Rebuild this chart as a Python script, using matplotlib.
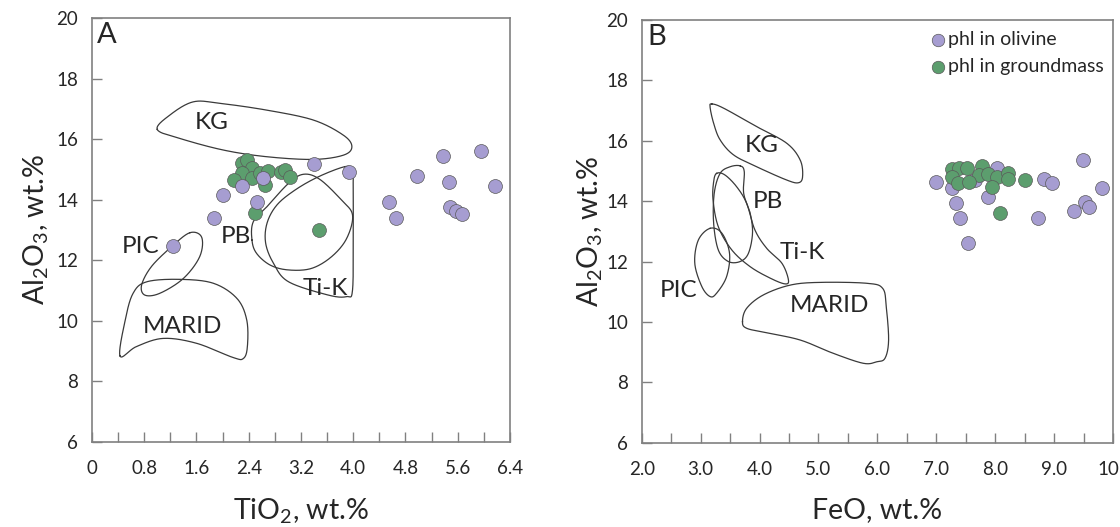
import numpy as np
import matplotlib
matplotlib.use("Agg")
import matplotlib.pyplot as plt
import matplotlib.transforms as mtransforms
from matplotlib.ticker import MultipleLocator, FixedLocator, FixedFormatter

plt.rcParams["font.family"] = ["Lato", "DejaVu Sans"]
plt.rcParams["mathtext.fontset"] = "custom"
plt.rcParams["mathtext.rm"] = "Lato"
plt.rcParams["mathtext.it"] = "Lato:italic"

# ---- phlogopite analyses -------------------------------------------------
# Panel A: TiO2 vs Al2O3
ti_olv = [1.24, 1.87, 2.00, 2.30, 2.62, 2.53, 3.40, 3.93, 4.55, 4.65, 4.98,
          5.38, 5.46, 5.48, 5.57, 5.66, 5.96, 6.17]
al_olv_a = [12.47, 13.38, 14.14, 14.45, 14.72, 13.92, 15.17, 14.90, 13.92,
            13.38, 14.77, 15.45, 14.60, 13.75, 13.64, 13.52, 15.61, 14.46]
ti_gm = [2.30, 2.37, 2.45, 2.29, 2.45, 2.18, 2.57, 2.70, 2.65, 2.90, 2.96,
         3.03, 2.49, 3.48]
al_gm_a = [15.20, 15.31, 15.03, 14.87, 14.70, 14.65, 14.87, 14.95, 14.48,
           14.92, 14.98, 14.74, 13.57, 13.00]

# Panel B: FeO vs Al2O3
fe_olv = [6.99, 7.26, 7.33, 7.40, 7.53, 7.66, 8.03, 7.88, 8.82, 8.97, 8.72,
          9.49, 9.33, 9.53, 9.60, 9.81]
al_olv_b = [14.65, 14.43, 13.93, 13.43, 12.60, 14.69, 15.09, 14.15, 14.72,
            14.59, 13.43, 15.36, 13.68, 13.98, 13.80, 14.43]
fe_gm = [7.26, 7.38, 7.52, 7.78, 7.72, 7.87, 8.03, 8.21, 8.21, 8.51, 7.26,
         7.36, 7.56, 7.94, 8.08]
al_gm_b = [15.05, 15.09, 15.09, 15.17, 14.87, 14.90, 14.81, 14.94, 14.73,
           14.69, 14.79, 14.61, 14.64, 14.48, 13.60]

# ---- reference fields (outline vertices, smoothed when drawn) -----------
fields_a = {
    "KG": [(1.00, 16.32), (1.19, 16.79), (1.55, 17.23), (1.96, 17.18),
           (2.67, 16.96), (3.39, 16.63), (3.85, 16.13), (3.98, 15.75),
           (3.85, 15.47), (3.39, 15.33), (2.67, 15.42), (2.01, 15.64),
           (1.35, 16.02)],
    "PIC": [(1.50, 12.91), (1.68, 12.76), (1.65, 12.12), (1.40, 11.40),
            (1.04, 10.91), (0.81, 10.85), (0.76, 11.18), (0.91, 11.79),
            (1.22, 12.45)],
    "MARID": [(0.43, 8.84), (0.51, 10.03), (0.63, 10.91), (0.84, 11.29),
              (1.35, 11.37), (1.86, 11.24), (2.22, 10.74), (2.37, 10.03),
              (2.38, 9.15), (2.32, 8.76), (2.16, 8.79), (1.60, 9.26),
              (1.09, 9.42), (0.68, 9.15)],
    "PB": [(2.45, 12.67), (2.47, 13.27), (2.68, 13.77), (3.01, 14.54),
           (3.24, 14.84), (3.49, 14.67), (3.82, 13.99), (3.99, 13.49),
           (3.90, 12.72), (3.67, 12.12), (3.36, 11.73), (3.01, 11.68),
           (2.73, 11.84), (2.52, 12.23)],
    "Ti-K": [(3.87, 15.09), (3.99, 15.00), (4.00, 14.54), (4.00, 12.89),
             (3.99, 11.02), (3.90, 10.80), (3.62, 10.85), (3.01, 11.29),
             (2.78, 11.90), (2.66, 12.56), (2.68, 13.22), (2.83, 13.82),
             (3.11, 14.32), (3.47, 14.76)],
}
label_pos_a = {"KG": (1.84, 16.56), "PB": (2.21, 12.77), "PIC": (0.74, 12.47),
               "Ti-K": (3.57, 11.08), "MARID": (1.39, 9.80)}

fields_b = {
    "KG": [(3.19, 17.22), (3.39, 17.08), (3.95, 16.47), (4.46, 15.92),
           (4.69, 15.36), (4.73, 14.81), (4.66, 14.61), (4.46, 14.70),
           (3.95, 15.14), (3.56, 15.53), (3.33, 16.03), (3.22, 16.58),
           (3.16, 17.11)],
    "PIC": [(3.16, 13.10), (3.36, 12.94), (3.49, 12.27), (3.44, 11.50),
            (3.27, 10.95), (3.16, 10.84), (3.02, 11.17), (2.90, 11.94),
            (2.96, 12.71)],
    "PB": [(3.67, 15.17), (3.74, 14.98), (3.73, 14.26), (3.84, 13.60),
           (3.88, 12.94), (3.81, 12.27), (3.67, 12.00), (3.47, 12.00),
           (3.30, 12.38), (3.22, 13.27), (3.23, 14.26), (3.33, 14.92),
           (3.50, 15.14)],
    "Ti-K": [(3.27, 14.92), (3.41, 14.87), (3.61, 14.48), (3.78, 13.93),
             (3.92, 13.05), (4.12, 12.44), (4.38, 11.94), (4.49, 11.39),
             (4.43, 11.26), (4.18, 11.45), (3.84, 11.83), (3.53, 12.38),
             (3.30, 13.15), (3.21, 14.04), (3.22, 14.64)],
    "MARID": [(3.71, 10.01), (3.78, 10.45), (4.06, 10.89), (4.52, 11.22),
              (5.03, 11.31), (5.82, 11.28), (6.09, 11.11), (6.15, 10.50),
              (6.19, 9.40), (6.13, 8.80), (5.99, 8.68), (5.76, 8.63),
              (5.25, 8.96), (4.69, 9.40), (4.12, 9.64), (3.78, 9.79)],
}
label_pos_b = {"KG": (4.04, 15.86), "PB": (4.15, 14.00), "Ti-K": (4.72, 12.30),
               "PIC": (2.62, 11.05), "MARID": (5.18, 10.55)}

OLV_COLOR = "#a69dd1"
GM_COLOR = "#5c9e6e"
EDGE = "#5a5a5a"
FRAME = "#808080"
TEXT = "#262626"


def smooth_closed(pts, n=30):
    """Closed Catmull-Rom curve through the given vertices."""
    p = np.asarray(pts, dtype=float)
    m = len(p)
    t = np.linspace(0, 1, n, endpoint=False)[:, None]
    out = []
    for i in range(m):
        p0, p1, p2, p3 = p[i - 1], p[i], p[(i + 1) % m], p[(i + 2) % m]
        seg = 0.5 * ((2 * p1) + (-p0 + p2) * t
                     + (2 * p0 - 5 * p1 + 4 * p2 - p3) * t ** 2
                     + (-p0 + 3 * p1 - 3 * p2 + p3) * t ** 3)
        out.append(seg)
    out = np.vstack(out)
    return np.vstack([out, out[:1]])


def style_axes(ax, xlim, xmajor, xminor, xlabels):
    ax.set_xlim(*xlim)
    ax.set_ylim(6, 20)
    for s in ax.spines.values():
        s.set_color(FRAME)
        s.set_linewidth(1.2)
    ax.xaxis.set_major_locator(FixedLocator(xmajor))
    ax.xaxis.set_major_formatter(FixedFormatter(xlabels))
    ax.xaxis.set_minor_locator(MultipleLocator(xminor))
    ax.set_yticks(np.arange(6, 21, 2))
    ax.set_yticklabels([str(v) for v in range(6, 21, 2)])
    ax.tick_params(axis="both", which="both", direction="in", length=7,
                   width=1.0, color=FRAME, labelsize=13.5, labelcolor=TEXT,
                   top=False, right=False)
    ax.tick_params(axis="y", which="major", pad=10)
    ax.tick_params(axis="x", which="major", pad=13)


def draw_fields(ax, fields, labels):
    for name, pts in fields.items():
        c = smooth_closed(pts)
        ax.plot(c[:, 0], c[:, 1], color="#3a3a3a", lw=0.9, zorder=2)
        lx, ly = labels[name]
        ax.text(lx, ly, name, fontsize=17.5, color=TEXT, ha="center",
                va="center", zorder=3)


fig = plt.figure(figsize=(11.2, 5.27), dpi=100)
ax_a = fig.add_axes([0.0821, 0.1613, 0.3732, 0.8046])
ax_b = fig.add_axes([0.5730, 0.1600, 0.4208, 0.8020])

# Panel A
draw_fields(ax_a, fields_a, label_pos_a)
ax_a.scatter(ti_gm, al_gm_a, s=100, color=GM_COLOR, edgecolor=EDGE, lw=0.5,
             zorder=4)
ax_a.scatter(ti_olv, al_olv_a, s=100, color=OLV_COLOR, edgecolor=EDGE, lw=0.5,
             zorder=5)
xa = np.arange(0, 6.41, 0.8)
style_axes(ax_a, (0, 6.4), xa, 0.4,
           ["0"] + [f"{v:.1f}" for v in xa[1:]])
ax_a.set_xlabel(r"TiO$_2$, wt.%", fontsize=20.5, color=TEXT, labelpad=14)
ax_a.set_ylabel(r"Al$_2$O$_3$, wt.%", fontsize=20.5, color=TEXT, labelpad=4)
ax_a.text(0.012, 0.99, "A", transform=ax_a.transAxes, fontsize=21,
          color=TEXT, ha="left", va="top")

# Panel B
draw_fields(ax_b, fields_b, label_pos_b)
ax_b.scatter(fe_olv, al_olv_b, s=100, color=OLV_COLOR, edgecolor=EDGE, lw=0.5,
             zorder=4, label="phl in olivine")
ax_b.scatter(fe_gm, al_gm_b, s=100, color=GM_COLOR, edgecolor=EDGE, lw=0.5,
             zorder=5, label="phl in groundmass")
xb = np.arange(2, 10.01, 1.0)
style_axes(ax_b, (2, 10), xb, 0.5,
           [f"{v:.1f}" for v in xb[:-1]] + ["10"])
# keep the last tick label inside the figure
last = ax_b.get_xticklabels()[-1]
last.set_transform(last.get_transform()
                   + mtransforms.ScaledTranslation(-5 / 100, 0,
                                                   fig.dpi_scale_trans))
ax_b.set_xlabel("FeO, wt.%", fontsize=20.5, color=TEXT, labelpad=14)
ax_b.set_ylabel(r"Al$_2$O$_3$, wt.%", fontsize=20.5, color=TEXT, labelpad=1)
ax_b.text(0.012, 0.99, "B", transform=ax_b.transAxes, fontsize=21,
          color=TEXT, ha="left", va="top")
ax_b.legend(loc="upper left", bbox_to_anchor=(0.598, 0.985), frameon=False,
            fontsize=14, handletextpad=0.0, borderaxespad=0.0,
            borderpad=0.25, labelspacing=0.5, handlelength=1.0,
            markerscale=0.9, labelcolor=TEXT)

fig.savefig("out.png", dpi=100)
